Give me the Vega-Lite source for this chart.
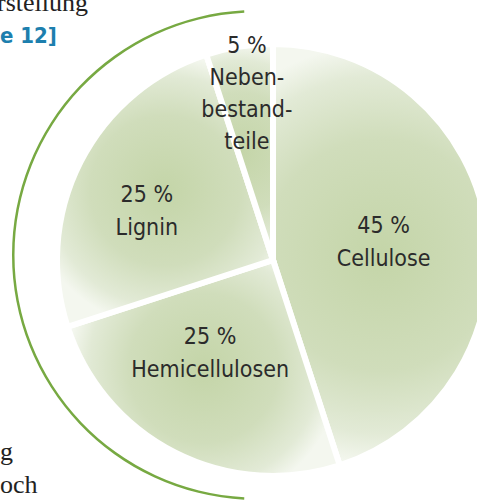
{
  "$schema": "https://vega.github.io/schema/vega-lite/v6.json",
  "width": 477,
  "height": 501,
  "padding": 0,
  "autosize": {"type": "none"},
  "background": "white",
  "config": {"view": {"stroke": null}},
  "datasets": {
    "pie": [
      {"rank": 1, "part": "Cellulose", "share": 45, "label": "45 %\nCellulose"},
      {"rank": 2, "part": "Hemicellulosen", "share": 25, "label": "25 %\nHemicellulosen"},
      {"rank": 3, "part": "Lignin", "share": 25, "label": "25 %\nLignin"},
      {"rank": 4, "part": "Nebenbestandteile", "share": 5, "label": "5 %\nNeben-\nbestand-\nteile"}
    ],
    "ring": [{"start": 183, "end": 357}]
  },
  "resolve": {"scale": {"theta": "independent"}},
  "layer": [
    {
      "data": {"name": "ring"},
      "mark": {"type": "arc", "x": 257, "y": 255, "radius": 245, "radius2": 242.5, "color": "#77a942"},
      "encoding": {
        "theta": {"field": "start", "type": "quantitative", "scale": {"domain": [0, 360]}},
        "theta2": {"field": "end"}
      }
    },
    {
      "data": {"name": "pie"},
      "resolve": {"scale": {"theta": "shared"}},
      "encoding": {
        "theta": {"field": "share", "type": "quantitative", "stack": true},
        "order": {"field": "rank", "type": "quantitative"}
      },
      "layer": [
        {
          "mark": {
            "type": "arc", "x": 273, "y": 260, "radius": 216,
            "fill": {"gradient": "radial", "stops": [
              {"offset": 0, "color": "#c4d5a8"},
              {"offset": 0.55, "color": "#d0ddbb"},
              {"offset": 0.85, "color": "#e2eAd6"},
              {"offset": 1, "color": "#f4f7ef"}
            ]},
            "stroke": "white", "strokeWidth": 6
          }
        },
        {
          "mark": {"type": "text", "x": 273, "y": 260, "radius": 112, "dy": -16.5, "font": "DejaVu Sans Condensed, sans-serif", "fontSize": 23, "lineHeight": 33, "lineBreak": "\n", "color": "#2b2b2b", "align": "center", "baseline": "middle"},
          "encoding": {"text": {"condition": {"test": "datum.part === 'Cellulose'", "field": "label"}, "value": ""}}
        },
        {
          "mark": {"type": "text", "x": 273, "y": 260, "radius": 112, "dx": -12, "dy": -22.5, "font": "DejaVu Sans Condensed, sans-serif", "fontSize": 23, "lineHeight": 33, "lineBreak": "\n", "color": "#2b2b2b", "align": "center", "baseline": "middle"},
          "encoding": {"text": {"condition": {"test": "datum.part === 'Hemicellulosen'", "field": "label"}, "value": ""}}
        },
        {
          "mark": {"type": "text", "x": 273, "y": 260, "radius": 136, "dx": -5, "dy": -3.5, "font": "DejaVu Sans Condensed, sans-serif", "fontSize": 23, "lineHeight": 33, "lineBreak": "\n", "color": "#2b2b2b", "align": "center", "baseline": "middle"},
          "encoding": {"text": {"condition": {"test": "datum.part === 'Lignin'", "field": "label"}, "value": ""}}
        },
        {
          "mark": {"type": "text", "x": 273, "y": 260, "radius": 167, "dy": -49.5, "font": "DejaVu Sans Condensed, sans-serif", "fontSize": 23, "lineHeight": 32, "lineBreak": "\n", "color": "#2b2b2b", "align": "center", "baseline": "middle"},
          "encoding": {"text": {"condition": {"test": "datum.part === 'Nebenbestandteile'", "field": "label"}, "value": ""}}
        }
      ]
    },
    {
      "data": {"values": [{"t": "rstellung"}]},
      "mark": {"type": "text", "x": -3, "y": 11, "align": "left", "baseline": "alphabetic", "font": "Liberation Serif, DejaVu Serif, serif", "fontSize": 26, "color": "#222222"},
      "encoding": {"text": {"field": "t"}}
    },
    {
      "data": {"values": [{"t": "e 12]"}]},
      "mark": {"type": "text", "x": 0, "y": 43, "align": "left", "baseline": "alphabetic", "font": "DejaVu Sans Condensed, sans-serif", "fontWeight": "bold", "fontSize": 22, "color": "#1d7fae"},
      "encoding": {"text": {"field": "t"}}
    },
    {
      "data": {"values": [{"t": "g"}]},
      "mark": {"type": "text", "x": 0, "y": 460, "align": "left", "baseline": "alphabetic", "font": "Liberation Serif, DejaVu Serif, serif", "fontSize": 26, "color": "#222222"},
      "encoding": {"text": {"field": "t"}}
    },
    {
      "data": {"values": [{"t": "och"}]},
      "mark": {"type": "text", "x": 0, "y": 493, "align": "left", "baseline": "alphabetic", "font": "Liberation Serif, DejaVu Serif, serif", "fontSize": 26, "color": "#222222"},
      "encoding": {"text": {"field": "t"}}
    }
  ]
}
